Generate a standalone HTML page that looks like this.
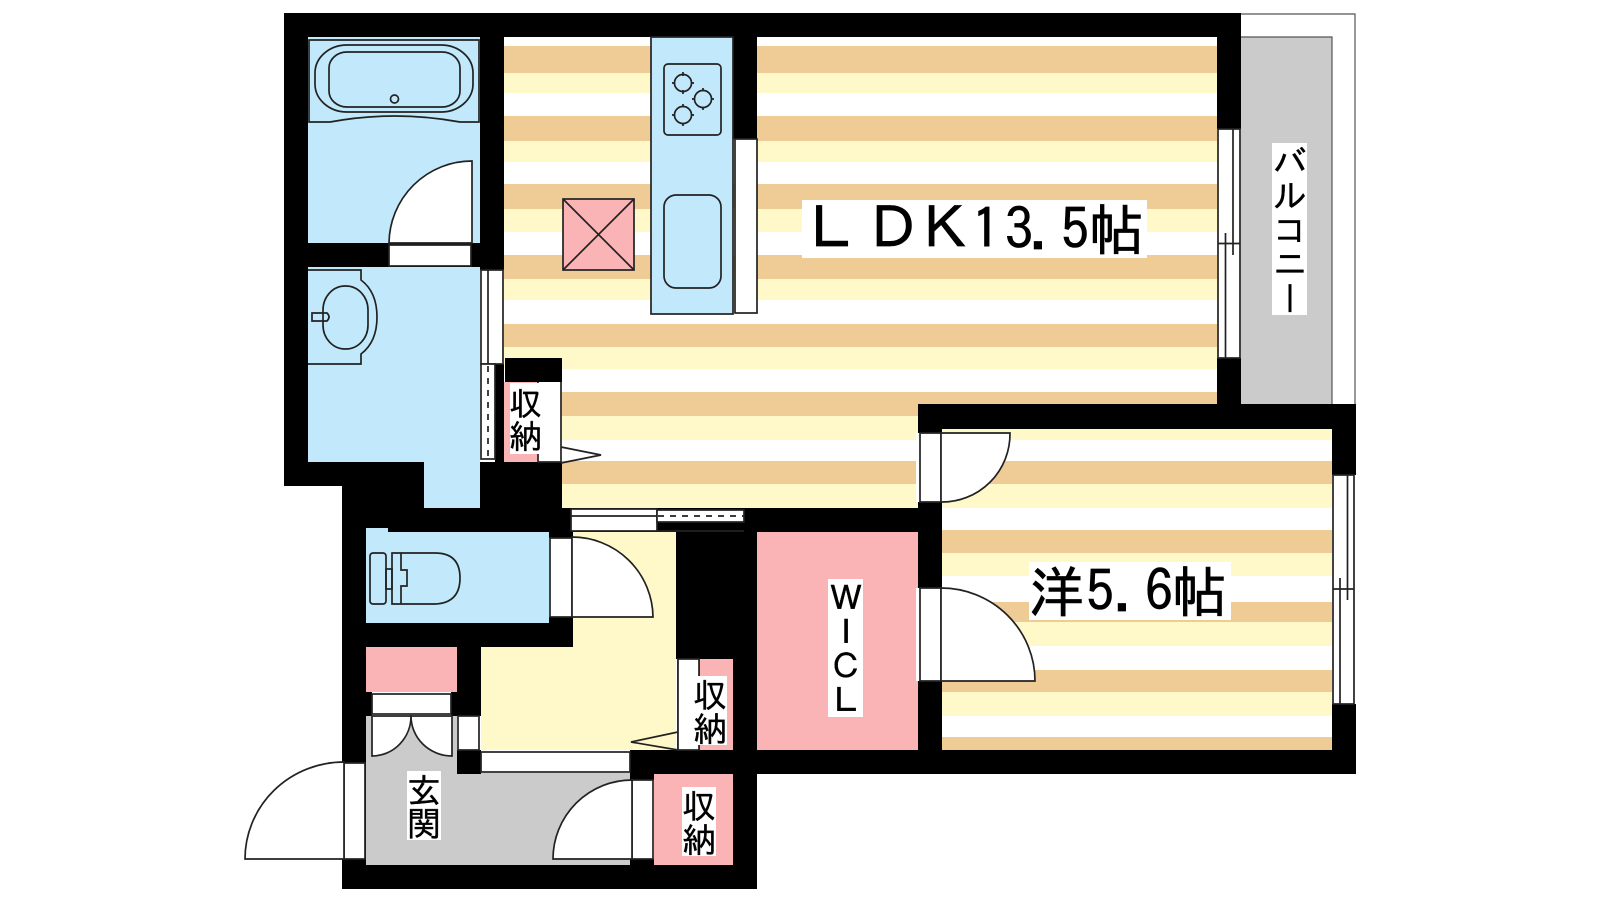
<!DOCTYPE html>
<html lang="ja">
<head>
<meta charset="utf-8">
<title>間取り図</title>
<style>
html,body{margin:0;padding:0;background:#fff;width:1600px;height:900px;overflow:hidden}
#c{position:absolute;left:0;top:0}
.v{position:absolute;background:#fff;color:#000;writing-mode:vertical-rl;text-orientation:upright;font-family:"IPAGothic","Noto Sans CJK JP",sans-serif;font-size:34px;line-height:34px;letter-spacing:0;text-align:center;white-space:nowrap;overflow:hidden;-webkit-text-stroke:.35px #000}
.t{font-family:"IPAGothic","Noto Sans CJK JP",sans-serif;fill:#000;stroke:#000;stroke-width:.7px}
</style>
</head>
<body>
<svg id="c" width="1600" height="900" viewBox="0 0 1600 900" xmlns="http://www.w3.org/2000/svg">
<defs>
<g id="s">
<g fill="#efcb95">
<rect x="480" y="46" width="900" height="27"/><rect x="480" y="116" width="900" height="25"/><rect x="480" y="184" width="900" height="25"/><rect x="480" y="255" width="900" height="24"/><rect x="480" y="324" width="900" height="23"/><rect x="480" y="392" width="900" height="24"/><rect x="480" y="461" width="900" height="23"/><rect x="480" y="530" width="900" height="23"/><rect x="480" y="602" width="900" height="20"/><rect x="480" y="670" width="900" height="22"/><rect x="480" y="737" width="900" height="13"/>
</g>
<g fill="#fff8c8">
<rect x="480" y="73" width="900" height="20"/><rect x="480" y="141" width="900" height="21"/><rect x="480" y="209" width="900" height="23"/><rect x="480" y="279" width="900" height="21"/><rect x="480" y="347" width="900" height="22"/><rect x="480" y="416" width="900" height="24"/><rect x="480" y="484" width="900" height="24"/><rect x="480" y="553" width="900" height="23"/><rect x="480" y="622" width="900" height="24"/><rect x="480" y="692" width="900" height="24"/>
</g>
</g>
<clipPath id="a"><polygon points="504,37 1217,37 1217,404 918,404 918,508 562,508 562,382 504,382"/></clipPath>
<clipPath id="b"><rect x="942" y="429" width="390" height="321"/></clipPath>
</defs>

<!-- floors -->
<use href="#s" clip-path="url(#a)"/>
<use href="#s" clip-path="url(#b)"/>
<rect x="1241" y="37" width="91" height="367" fill="#cbcbcb"/>
<rect x="308" y="37" width="172" height="206" fill="#c2e9fb"/>
<rect x="308" y="267" width="172" height="195" fill="#c2e9fb"/>
<rect x="424" y="462" width="56" height="46" fill="#c2e9fb"/>
<rect x="366" y="532" width="183" height="91" fill="#c2e9fb"/>
<rect x="481" y="647" width="195" height="103" fill="#fff8c8"/>
<rect x="572" y="532" width="104" height="115" fill="#fff8c8"/>
<rect x="366" y="716" width="91" height="149" fill="#cbcbcb"/>
<rect x="457" y="773" width="173" height="92" fill="#cbcbcb"/>
<rect x="366" y="647" width="91" height="45" fill="#fab4b5"/>
<rect x="654" y="774" width="79" height="91" fill="#fab4b5"/>
<rect x="699" y="659" width="34" height="91" fill="#fab4b5"/>
<rect x="757" y="532" width="161" height="218" fill="#fab4b5"/>
<rect x="504" y="382" width="34" height="80" fill="#fab4b5"/>
<rect x="538" y="382" width="23" height="80" fill="#fff"/>

<!-- walls -->
<g fill="#000">
<rect x="284" y="13" width="957" height="24"/>
<rect x="284" y="13" width="24" height="473"/>
<rect x="284" y="462" width="140" height="24"/>
<rect x="342" y="486" width="82" height="46"/>
<rect x="342" y="508" width="402" height="24"/>
<rect x="342" y="532" width="24" height="357"/>
<rect x="342" y="865" width="415" height="24"/>
<rect x="733" y="532" width="24" height="357"/>
<rect x="676" y="522" width="57" height="137"/>
<rect x="480" y="37" width="24" height="233"/>
<rect x="308" y="243" width="172" height="24"/>
<rect x="480" y="462" width="82" height="46"/>
<rect x="495" y="364" width="9" height="98"/>
<rect x="505" y="358" width="57" height="24"/>
<rect x="549" y="532" width="24" height="6"/>
<rect x="342" y="623" width="231" height="24"/>
<rect x="549" y="617" width="24" height="30"/>
<rect x="457" y="647" width="24" height="69"/>
<rect x="366" y="692" width="6" height="24"/>
<rect x="451" y="692" width="30" height="24"/>
<rect x="630" y="750" width="127" height="24"/>
<rect x="630" y="774" width="24" height="6"/>
<rect x="630" y="859" width="24" height="6"/>
<rect x="457" y="750" width="24" height="24"/>
<rect x="733" y="37" width="24" height="102"/>
<rect x="1217" y="13" width="24" height="116"/>
<rect x="1217" y="358" width="24" height="46"/>
<rect x="918" y="404" width="438" height="25"/>
<rect x="918" y="404" width="24" height="370"/>
<rect x="744" y="508" width="174" height="24"/>
<rect x="1332" y="404" width="24" height="71"/>
<rect x="1332" y="704" width="24" height="70"/>
<rect x="733" y="750" width="623" height="24"/>
</g>
<rect x="366" y="528" width="22" height="6" fill="#c2e9fb"/>

<g fill="none" stroke="#222" stroke-width="1.7">
<!-- balcony rail -->
<path d="M1241 14H1355V404" stroke="#555" stroke-width="1.200"/>
<path d="M1241 37H1332V404" stroke="#555" stroke-width="1.200"/>

<!-- bath -->
<path d="M309 40H479V122H460Q394 110 330 122H309Z"/>
<rect x="315" y="45" width="158" height="67" rx="32" ry="28"/>
<rect x="329" y="52" width="131" height="55" rx="18" ry="16"/>
<circle cx="394.500" cy="99" r="4"/>
<!-- bath door -->
<path d="M389 243A83 83 0 0 1 472 161V243Z" fill="#fff"/>
<rect x="389" y="245" width="82" height="21" fill="#fff"/>

<!-- wash basin -->
<path d="M308 270H361V280Q377 292 377 317T361 354V364H308"/>
<rect x="323" y="286" width="45" height="63" rx="22" ry="24"/>
<path d="M312 313H327Q331 317 327 321H312Z"/>

<!-- toilet -->
<rect x="370" y="553" width="16" height="51" rx="3"/>
<rect x="386" y="569" width="6" height="20"/>
<path d="M392 553H435Q460 553 460 578T435 604H392Z"/>
<path d="M401 553V570H407V586H401V604"/>

<!-- kitchen -->
<rect x="651" y="37" width="82" height="277" fill="#c2e9fb"/>
<rect x="735" y="139" width="22" height="174" fill="#fff"/>
<rect x="664" y="64" width="57" height="71" rx="4"/>
<circle cx="683" cy="83" r="8.500"/><circle cx="703" cy="99" r="8.500"/><circle cx="683" cy="115" r="8.500"/>
<path d="M683 72V76M672 83H675M691 83H694M683 90V94M703 88V91M692 99H695M711 99H714M703 107V110M683 104V107M672 115H675M691 115H694M683 123V126"/>
<rect x="664" y="195" width="57" height="93" rx="12"/>

<!-- pillar box -->
<rect x="563" y="199" width="71" height="71" fill="#fab4b5"/>
<path d="M563 199L634 270M634 199L563 270"/>

<!-- LDK-left window -->
<rect x="481" y="270" width="22" height="94" fill="#fff"/>
<path d="M488 270V364"/>
<rect x="481" y="364" width="14" height="95" fill="#fff"/>
<path d="M488 366V459" stroke-dasharray="6 6"/>

<!-- LDK storage -->
<path d="M538 382V462H561V382M561 447L601 455L561 463"/>

<!-- LDK bottom sliding door -->
<rect x="571" y="509" width="86" height="22" fill="#fff"/>
<path d="M571 516H657"/>
<rect x="657" y="510" width="87" height="12" fill="#fff"/>
<path d="M658 516H744" stroke-dasharray="6 6"/>
<path d="M657 531H744"/>

<!-- toilet door -->
<rect x="550" y="538" width="22" height="79" fill="#fff"/>
<path d="M572 537A81 81 0 0 1 653 617H572Z" fill="#fff"/>

<!-- bedroom doors -->
<rect x="916" y="433" width="26" height="69" fill="#fff" stroke="none"/>
<path d="M920 433V502H941V433Z"/>
<path d="M941 433H1010A68 68 0 0 1 941 502Z" fill="#fff"/>
<rect x="916" y="588" width="26" height="93" fill="#fff" stroke="none"/>
<path d="M920 588V681H941V588Z"/>
<path d="M941 588A94 93 0 0 1 1035 681H941Z" fill="#fff"/>

<!-- hall storage -->
<path d="M678 659V750M699 659V750"/>
<rect x="678" y="659" width="21" height="91" fill="#fff"/>
<path d="M678 732L631 742L678 750"/>

<!-- closet doors -->
<rect x="372" y="694" width="79" height="20" fill="#fff"/>
<path d="M372 716H411A39 40 0 0 1 372 756Z" fill="#fff"/>
<path d="M452 716H411A41 40 0 0 0 452 756Z" fill="#fff"/>
<rect x="458" y="716" width="21" height="34" fill="#fff"/>

<!-- hall opening -->
<rect x="481" y="752" width="149" height="20" fill="#fff"/>

<!-- entrance door -->
<rect x="344" y="763" width="21" height="96" fill="#fff"/>
<path d="M344 762A99 97 0 0 0 245 859H344Z" fill="#fff"/>

<!-- storage door -->
<rect x="632" y="780" width="21" height="79" fill="#fff"/>
<path d="M632 780A79 79 0 0 0 553 859H632Z" fill="#fff"/>

<!-- bathroom / balcony window -->
<rect x="1218" y="129" width="22" height="229" fill="#fff"/>
<path d="M1225.500 233V358M1233 129V255M1218 243.500H1240"/>

<!-- bedroom window -->
<rect x="1333" y="475" width="21" height="229" fill="#fff"/>
<path d="M1340 578V704M1347.500 475V600M1333 589H1354"/>
</g>

<!-- labels -->
<rect x="802" y="200" width="345" height="58" fill="#fff"/>
<text class="t" y="249" x="802 864 916" font-size="58">ＬＤＫ</text>
<text class="t" y="249" x="972 1005 1029 1061" font-size="56">13.5</text>
<text class="t" y="250" x="1089" font-size="55">帖</text>

<rect x="1029" y="562" width="202" height="58" fill="#fff"/>
<text class="t" y="612" x="1029" font-size="55">洋</text>
<text class="t" y="611" x="1086 1113 1145" font-size="56">5.6</text>
<text class="t" y="612" x="1172" font-size="55">帖</text>
</svg>

<div class="v" style="left:828px;top:579px;width:35px;height:138px;">ＷＩＣＬ</div>
<div class="v" style="left:1272px;top:143px;width:35px;height:172px;">バルコニー</div>
<div class="v" style="left:510px;top:383px;width:31px;height:71px;font-size:33px;line-height:31px;">収納</div>
<div class="v" style="left:693px;top:676px;width:34px;height:69px;">収納</div>
<div class="v" style="left:682px;top:787px;width:34px;height:69px;">収納</div>
<div class="v" style="left:407px;top:771px;width:34px;height:69px;">玄関</div>
</body>
</html>
